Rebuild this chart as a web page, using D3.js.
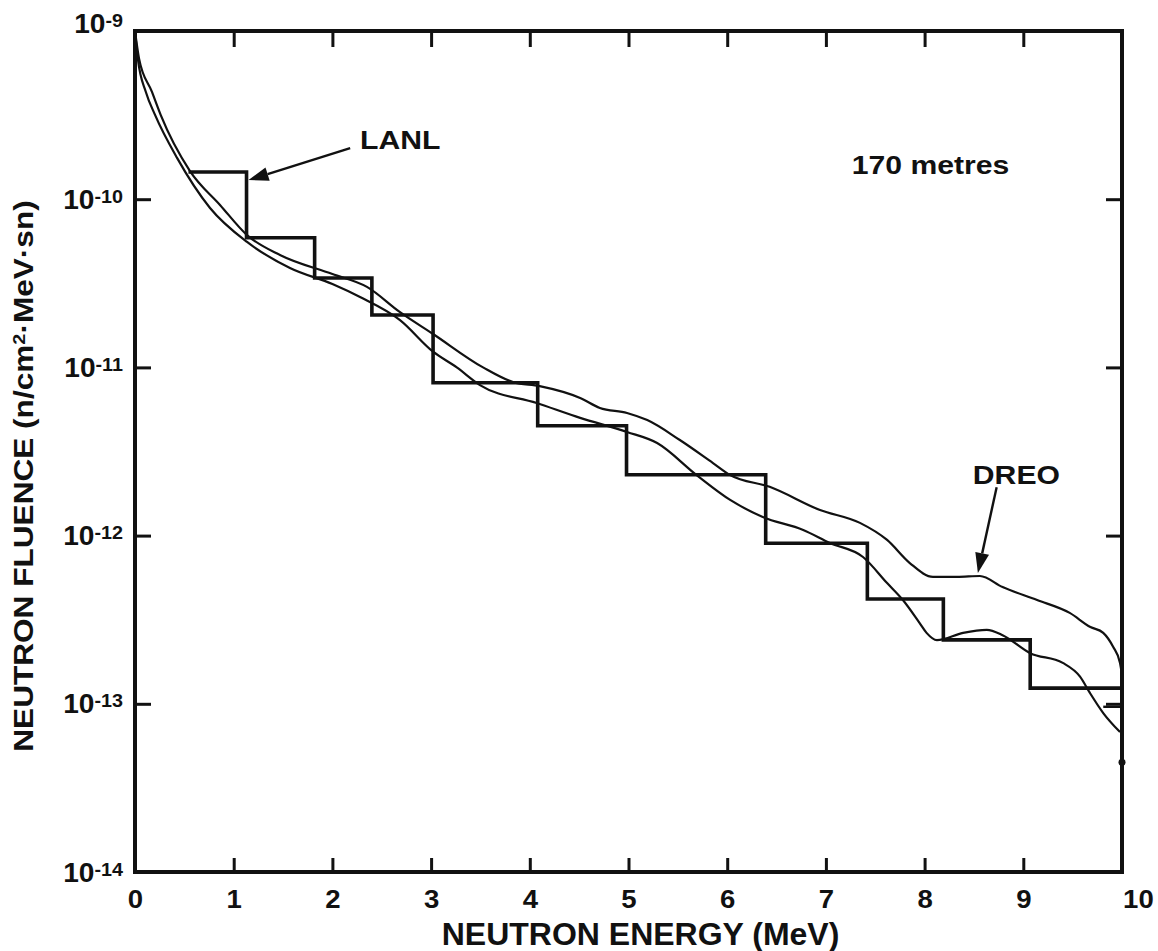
<!DOCTYPE html>
<html>
<head>
<meta charset="utf-8">
<script src="https://cdn.jsdelivr.net/npm/d3@7"></script>
<style>
  body { margin: 0; background: #fff; }
  svg { display: block; }
  text { font-family: "Liberation Sans", Arial, Helvetica, sans-serif; font-weight: bold; fill: #111; }
</style>
</head>
<body>
<svg id="chart" width="1158" height="951"></svg>
<script>
// Neutron fluence spectrum at 170 m: LANL histogram vs two calculated curves.

// LANL group histogram: bin edges (MeV) and fluence per bin
const lanlEdges = [0.56, 1.13, 1.82, 2.40, 3.02, 4.08, 4.98, 6.39, 7.42, 8.19, 9.07, 10.0];
const lanlValues = [1.45e-10, 5.9e-11, 3.4e-11, 2.05e-11, 8.1e-12, 4.5e-12, 2.3e-12, 9.0e-13, 4.2e-13, 2.4e-13, 1.24e-13];
// short extra segment at the top end of the histogram, and the dot on the right axis
const lanlTail = { from: 9.81, to: 10.0, value: 9.6e-14 };
const tailDot = { e: 10.0, value: 4.5e-14 };

// DREO curve (upper one at high energy)
const dreoE = [0, 0.04, 0.172, 0.26, 0.557, 0.861, 1.135, 1.469, 2.0, 2.35, 2.685, 3.02, 3.526, 3.83, 4.10, 4.51,
  4.71, 4.985, 5.19, 5.52, 5.856, 6.03, 6.43, 6.94, 7.345, 7.62, 7.85, 8.085, 8.33, 8.56, 8.79, 9.14, 9.47, 9.68,
  9.81, 9.91, 9.98, 10.0];
const dreoF = [1.0e-9, 6.9e-10, 4.34e-10, 3.17e-10, 1.47e-10, 9.25e-11, 6.12e-11, 4.66e-11, 3.59e-11, 3.01e-11, 2.13e-11,
  1.58e-11, 1.0e-11, 8.18e-12, 7.74e-12, 6.58e-12, 5.74e-12, 5.36e-12, 4.86e-12, 3.70e-12, 2.70e-12, 2.29e-12,
  1.95e-12, 1.42e-12, 1.19e-12, 9.42e-13, 6.87e-13, 5.68e-13, 5.68e-13, 5.75e-13, 4.94e-13, 4.14e-13, 3.47e-13,
  2.86e-13, 2.64e-13, 2.18e-13, 1.75e-13, 1.48e-13];

// second calculated curve (lower one)
const otherE = [0, 0.03, 0.11, 0.203, 0.426, 0.76, 1.135, 1.57, 2.0, 2.28, 2.685, 3.02, 3.26, 3.495, 4.07, 4.51,
  4.985, 5.29, 5.69, 6.03, 6.36, 6.77, 7.04, 7.376, 7.62, 7.78, 7.95, 8.02, 8.125, 8.39, 8.63, 8.79, 9.07, 9.40,
  9.575, 9.675, 9.81, 9.98];
const otherF = [1.0e-9, 6.76e-10, 4.34e-10, 3.17e-10, 1.76e-10, 8.87e-11, 5.57e-11, 3.90e-11, 3.13e-11, 2.62e-11,
  1.91e-11, 1.24e-11, 1.0e-11, 7.85e-12, 6.14e-12, 5.01e-12, 4.13e-12, 3.55e-12, 2.29e-12, 1.63e-12, 1.29e-12,
  1.08e-12, 9.04e-13, 7.46e-13, 5.22e-13, 4.14e-13, 3.02e-13, 2.64e-13, 2.39e-13, 2.64e-13, 2.75e-13, 2.56e-13,
  2.00e-13, 1.75e-13, 1.45e-13, 1.16e-13, 8.81e-14, 6.79e-14];

const xTicks = [0, 1, 2, 3, 4, 5, 6, 7, 8, 9, 10];
const yTicks = [1e-9, 1e-10, 1e-11, 1e-12, 1e-13, 1e-14];
const yTickExp = ['-9', '-10', '-11', '-12', '-13', '-14'];

// annotations, in data coordinates
const labels = [
  { text: 'LANL', e: 2.28, f: 1.98e-10, anchor: 'start' },
  { text: '170 metres', e: 8.06, f: 1.42e-10, anchor: 'middle' },
  { text: 'DREO', e: 8.93, f: 2.04e-12, anchor: 'middle' }
];
const arrows = [
  { from: [2.18, 2.01e-10], to: [1.15, 1.30e-10] },
  { from: [8.73, 1.94e-12], to: [8.54, 6.0e-13] }
];

const W = 1158, H = 951;
const margin = { top: 31, right: 36, bottom: 79, left: 135 };
const svg = d3.select('#chart');

const x = d3.scaleLinear().domain([0, 10]).range([margin.left, W - margin.right]);
const y = d3.scaleLog().domain([1e-14, 1e-9]).range([H - margin.bottom, margin.top]);

const TEXT_STRETCH = 1.16;

// ----- axes (ticks point inward) -----
const gx = svg.append('g').attr('transform', `translate(0,${y.range()[0]})`)
  .call(d3.axisBottom(x).tickValues(xTicks).tickSizeInner(-14).tickSizeOuter(0).tickPadding(18));
gx.select('.domain').remove();
gx.selectAll('.tick line').attr('stroke', '#111').attr('stroke-width', 3);
gx.selectAll('.tick text')
  .attr('font-size', 26).attr('fill', '#111')
  .attr('x', (d) => (d === 10 ? 15 : 0))
  .attr('transform', 'scale(1.06,1)');

svg.append('g').attr('transform', `translate(0,${y.range()[1]})`)
  .call(d3.axisTop(x).tickValues(xTicks.slice(1, -1)).tickSizeInner(-16).tickSizeOuter(0).tickFormat(''))
  .call((g) => g.select('.domain').remove())
  .call((g) => g.selectAll('.tick line').attr('stroke', '#111').attr('stroke-width', 3));

const gy = svg.append('g').attr('transform', `translate(${x.range()[0]},0)`)
  .call(d3.axisLeft(y).tickValues(yTicks).tickSizeInner(-16).tickSizeOuter(0).tickFormat(() => ''));
gy.select('.domain').remove();
gy.selectAll('.tick line').attr('stroke', '#111').attr('stroke-width', 3);
gy.selectAll('.tick text').each(function (d, i) {
  const t = d3.select(this)
    .attr('x', 0).attr('dy', i === 0 ? '0.04em' : '0.34em')
    .attr('font-size', 27)
    .attr('transform', `translate(-12,0) scale(1.04,1)`);
  t.append('tspan').text('10');
  t.append('tspan').attr('font-size', 19).attr('dy', -6).text(yTickExp[i]);
});

svg.append('g').attr('transform', `translate(${x.range()[1]},0)`)
  .call(d3.axisRight(y).tickValues(yTicks.slice(1, -1)).tickSizeInner(-16).tickSizeOuter(0).tickFormat(''))
  .call((g) => g.select('.domain').remove())
  .call((g) => g.selectAll('.tick line').attr('stroke', '#111').attr('stroke-width', 3));

// ----- curves -----
const line = d3.line().x((d) => x(d[0])).y((d) => y(d[1])).curve(d3.curveMonotoneX);
const plot = svg.append('g');

plot.append('path')
  .datum(d3.zip(otherE, otherF))
  .attr('d', line).attr('fill', 'none').attr('stroke', '#111').attr('stroke-width', 2.2);

plot.append('path')
  .datum(d3.zip(dreoE, dreoF))
  .attr('d', line).attr('fill', 'none').attr('stroke', '#111').attr('stroke-width', 2.2);

// LANL histogram as a step line
const steps = lanlValues.map((v, i) => [lanlEdges[i], v]);
steps.push([lanlEdges[lanlEdges.length - 1], lanlValues[lanlValues.length - 1]]);
plot.append('path')
  .datum(steps)
  .attr('d', d3.line().x((d) => x(d[0])).y((d) => y(d[1])).curve(d3.curveStepAfter))
  .attr('fill', 'none').attr('stroke', '#111').attr('stroke-width', 3.6)
  .attr('stroke-linejoin', 'miter').attr('stroke-linecap', 'square');

plot.append('line')
  .attr('x1', x(lanlTail.from)).attr('x2', x(lanlTail.to))
  .attr('y1', y(lanlTail.value)).attr('y2', y(lanlTail.value))
  .attr('stroke', '#111').attr('stroke-width', 2.4);

plot.append('circle')
  .attr('cx', x(tailDot.e)).attr('cy', y(tailDot.value)).attr('r', 3.5).attr('fill', '#111');

// ----- frame -----
svg.append('rect')
  .attr('x', x.range()[0]).attr('y', y.range()[1])
  .attr('width', x.range()[1] - x.range()[0]).attr('height', y.range()[0] - y.range()[1])
  .attr('fill', 'none').attr('stroke', '#111').attr('stroke-width', 4);

// ----- annotations -----
const ann = svg.append('g');
for (const a of arrows) {
  const x1 = x(a.from[0]), y1 = y(a.from[1]);
  const x2 = x(a.to[0]), y2 = y(a.to[1]);
  const ang = Math.atan2(y2 - y1, x2 - x1);
  const headLen = 20, headW = 7;
  const bx = x2 - headLen * Math.cos(ang), by = y2 - headLen * Math.sin(ang);
  ann.append('line')
    .attr('x1', x1).attr('y1', y1).attr('x2', bx).attr('y2', by)
    .attr('stroke', '#111').attr('stroke-width', 2.4);
  const px = -Math.sin(ang) * headW, py = Math.cos(ang) * headW;
  ann.append('path')
    .attr('d', `M${x2},${y2}L${bx + px},${by + py}L${bx - px},${by - py}Z`)
    .attr('fill', '#111');
}

for (const l of labels) {
  ann.append('text')
    .attr('transform', `translate(${x(l.e)},${y(l.f)}) scale(${TEXT_STRETCH},1)`)
    .attr('text-anchor', l.anchor)
    .attr('font-size', 26)
    .text(l.text);
}

// ----- axis titles -----
svg.append('text')
  .attr('transform', `translate(${(x.range()[0] + x.range()[1]) / 2 + 12},945)`)
  .attr('text-anchor', 'middle').attr('font-size', 32)
  .text('NEUTRON ENERGY (MeV)');

const yTitle = svg.append('text')
  .attr('transform', `translate(33,476) rotate(-90) scale(1.17,1)`)
  .attr('text-anchor', 'middle').attr('font-size', 27);
yTitle.append('tspan').text('NEUTRON FLUENCE (n/cm');
yTitle.append('tspan').attr('font-size', 17).attr('dy', -8).text('2');
yTitle.append('tspan').attr('dy', 8).text('\u00B7MeV\u00B7sn)');
</script>
</body>
</html>
